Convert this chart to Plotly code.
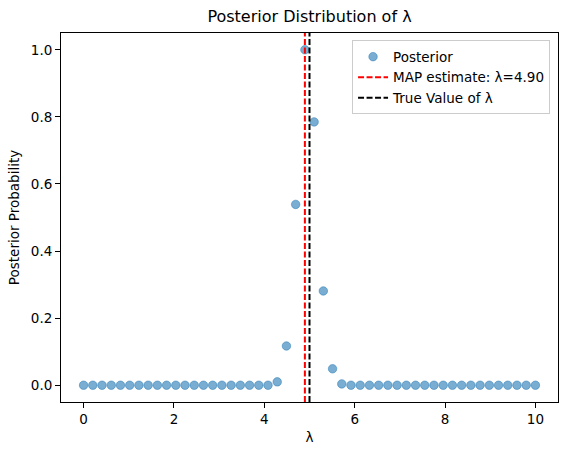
import numpy as np
import plotly.graph_objects as go

# lambda grid, 50 points over [0, 10]
lambdas = np.linspace(0, 10, 50)

# posterior probabilities (normalised so the max is 1)
posterior = [
    0, 0, 0, 0, 0, 0, 0, 0, 0, 0,
    0, 0, 0, 0, 0, 0, 0, 0, 0, 0,
    0, 0.01, 0.117, 0.539, 1.0, 0.785, 0.281, 0.049, 0.004, 0,
    0, 0, 0, 0, 0, 0, 0, 0, 0, 0,
    0, 0, 0, 0, 0, 0, 0, 0, 0, 0,
]

map_estimate = lambdas[int(np.argmax(posterior))]
true_lambda = 5.0

fig = go.Figure()

fig.add_trace(
    go.Scatter(
        x=lambdas,
        y=posterior,
        mode="markers",
        name="Posterior",
        marker=dict(
            color="rgba(31,119,180,0.6)",
            size=8.5,
            line=dict(width=0.8, color="rgba(31,119,180,0.6)"),
        ),
    )
)

fig.add_vline(
    x=map_estimate,
    line=dict(color="red", width=2, dash="6px,2.5px"),
    showlegend=True,
    name=f"MAP estimate: λ={map_estimate:.2f}",
)
fig.add_vline(
    x=true_lambda,
    line=dict(color="black", width=2, dash="6px,2.5px"),
    showlegend=True,
    name="True Value of λ",
)

axis_style = dict(
    showline=True,
    linecolor="black",
    linewidth=1,
    mirror=True,
    ticks="outside",
    ticklen=5,
    tickcolor="black",
    showgrid=False,
    zeroline=False,
    automargin=False,
    tickfont=dict(size=13.5, color="black"),
)

fig.update_layout(
    width=567,
    height=455,
    margin=dict(l=61, r=9, t=33, b=53),
    plot_bgcolor="white",
    paper_bgcolor="white",
    font=dict(family="DejaVu Sans", size=13.5, color="black"),
    title=dict(
        text="Posterior Distribution of λ",
        x=0.5,
        xref="paper",
        xanchor="center",
        y=0.963,
        yanchor="middle",
        font=dict(size=16),
    ),
    xaxis=dict(
        axis_style,
        range=[-0.5, 10.5],
        tickvals=[0, 2, 4, 6, 8, 10],
        title=dict(text="λ", standoff=6, font=dict(size=13.5)),
    ),
    yaxis=dict(
        axis_style,
        range=[-0.05, 1.05],
        tickvals=[0, 0.2, 0.4, 0.6, 0.8, 1.0],
        tickformat=".1f",
        title=dict(text="Posterior Probability", standoff=8, font=dict(size=13.5)),
    ),
    legend=dict(
        x=0.984,
        y=0.98,
        xanchor="right",
        yanchor="top",
        bgcolor="rgba(255,255,255,0.8)",
        bordercolor="#cccccc",
        borderwidth=1,
        font=dict(size=13.5),
    ),
)

# drop the browser's default body margin so the figure sits at the page origin
fig.write_html(
    "out.html",
    config={"displayModeBar": False},
    post_script="document.body.style.margin='0';",
)
